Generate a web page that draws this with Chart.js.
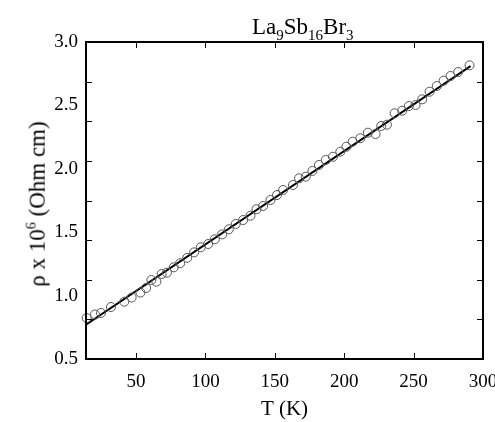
<!DOCTYPE html>
<html>
<head>
<meta charset="utf-8">
<script src="https://cdn.jsdelivr.net/npm/chart.js@4.4.1/dist/chart.umd.min.js"></script>
<style>
  body { margin: 0; background: #fff; }
  #wrap { position: relative; width: 495px; height: 422px; font-family: "Liberation Serif", "Times New Roman", serif; color: #000; }
  #myChart { position: absolute; left: 0; top: 0; }
  .ttl { position: absolute; left: 252px; top: 15px; font-size: 23px; line-height: 24px; white-space: nowrap; }
  .ttl sub { font-size: 15px; }
  .ylab { position: absolute; left: 37px; top: 204px; transform: translate(-50%, -50%) rotate(-90deg); font-size: 23px; white-space: nowrap; }
  sup { font-size: 14px; }
</style>
</head>
<body>
<div id="wrap">
  <canvas id="myChart" width="495" height="422"></canvas>
  <div class="ttl">La<sub>9</sub>Sb<sub>16</sub>Br<sub>3</sub></div>
  <div class="ylab">ρ x 10<sup>6</sup> (Ohm cm)</div>
</div>
<script>
// measured points, T in K and rho x 10^6 in Ohm cm
var temps = [14.5, 20.5, 24.8, 32, 41.6, 46.9, 53.2, 57.3, 61.1, 64.7, 68.5, 72.3, 77.2, 81.8, 86.9,
  91.9, 96.7, 102, 106.8, 112.1, 116.9, 121.9, 127.2, 132.5, 136.8, 141.6, 146.9, 151.6, 156, 163.1,
  167.5, 172.3, 177.1, 181.8, 186.7, 191.9, 197.2, 201.6, 206.1, 211.6, 217.1, 222.6, 226.7, 230.8,
  236.3, 241.8, 246.6, 251.4, 256.2, 261.5, 266.7, 271.6, 276.6, 282.1, 290.3];
var rho = [0.823, 0.851, 0.863, 0.910, 0.952, 0.985, 1.024, 1.060, 1.123, 1.110, 1.170, 1.181, 1.223, 1.255, 1.298,
  1.341, 1.381, 1.407, 1.444, 1.483, 1.523, 1.565, 1.596, 1.630, 1.681, 1.707, 1.754, 1.793, 1.833, 1.872,
  1.925, 1.938, 1.983, 2.030, 2.069, 2.095, 2.135, 2.174, 2.214, 2.241, 2.285, 2.274, 2.338, 2.348,
  2.438, 2.458, 2.495, 2.503, 2.548, 2.608, 2.653, 2.695, 2.732, 2.763, 2.816];

// fitted straight line (end points)
var fitT = [14, 291];
var fitRho = [0.770, 2.810];

var xTicks = [50, 100, 150, 200, 250, 300];
var yTicks = [0.5, 1.0, 1.5, 2.0, 2.5, 3.0];

// little inward tick marks and the frame around the plot
var frameTicks = {
  id: "frameTicks",
  afterDraw: function (chart) {
    var c = chart.ctx, a = chart.chartArea;
    var xs = chart.scales.x, ys = chart.scales.y;
    c.save();
    c.strokeStyle = "#000";
    c.lineWidth = 1;
    xTicks.forEach(function (v) {
      var px = Math.round(xs.getPixelForValue(v)) + 0.5;
      c.beginPath();
      c.moveTo(px, a.bottom); c.lineTo(px, a.bottom - 6);
      c.moveTo(px, a.top); c.lineTo(px, a.top + 6);
      c.stroke();
    });
    var step = (ys.max - ys.min) / 8;
    for (var k = 1; k < 8; k++) {
      var py = Math.round(ys.getPixelForValue(ys.min + k * step)) + 0.5;
      c.beginPath();
      c.moveTo(a.left, py); c.lineTo(a.left + 6, py);
      c.moveTo(a.right, py); c.lineTo(a.right - 6, py);
      c.stroke();
    }
    c.lineWidth = 2;
    c.strokeRect(a.left, a.top, a.right - a.left, a.bottom - a.top);
    c.restore();
  }
};

var ctx = document.getElementById("myChart");

new Chart(ctx, {
  type: "scatter",
  data: {
    datasets: [
      {
        label: "data",
        data: temps.map(function (t, i) { return { x: t, y: rho[i] }; }),
        showLine: false,
        pointStyle: "circle",
        pointRadius: 4.5,
        pointBorderWidth: 1,
        pointBorderColor: "#555",
        pointBackgroundColor: "rgba(0,0,0,0)",
        clip: false,
      },
      {
        label: "fit",
        data: fitT.map(function (t, i) { return { x: t, y: fitRho[i] }; }),
        showLine: true,
        borderColor: "#000",
        borderWidth: 2,
        pointRadius: 0,
      },
    ],
  },
  options: {
    responsive: false,
    animation: false,
    layout: { padding: { left: 0, top: 42, right: 12, bottom: 0 } },
    plugins: { legend: { display: false }, tooltip: { enabled: false } },
    scales: {
      x: {
        type: "linear",
        min: 14,
        max: 300,
        afterBuildTicks: function (s) { s.ticks = xTicks.map(function (v) { return { value: v }; }); },
        afterFit: function (s) { s.height = 63; s.paddingLeft = 0; s.paddingRight = 0; },
        grid: { display: false, drawTicks: false },
        border: { display: false },
        ticks: {
          color: "#000",
          padding: 12,
          maxRotation: 0,
          font: { family: "Liberation Serif", size: 19 },
        },
        title: {
          display: true,
          text: "T (K)",
          color: "#000",
          padding: { top: 0, bottom: 0 },
          font: { family: "Liberation Serif", size: 21 },
        },
      },
      y: {
        type: "linear",
        min: 0.5,
        max: 3.0,
        afterBuildTicks: function (s) { s.ticks = yTicks.map(function (v) { return { value: v }; }); },
        afterFit: function (s) { s.width = 86; s.paddingTop = 0; s.paddingBottom = 0; },
        grid: { display: false, drawTicks: false },
        border: { display: false },
        ticks: {
          color: "#000",
          padding: 8,
          font: { family: "Liberation Serif", size: 19 },
          callback: function (v) { return Number(v).toFixed(1); },
        },
      },
    },
  },
  plugins: [frameTicks],
});
</script>
</body>
</html>
